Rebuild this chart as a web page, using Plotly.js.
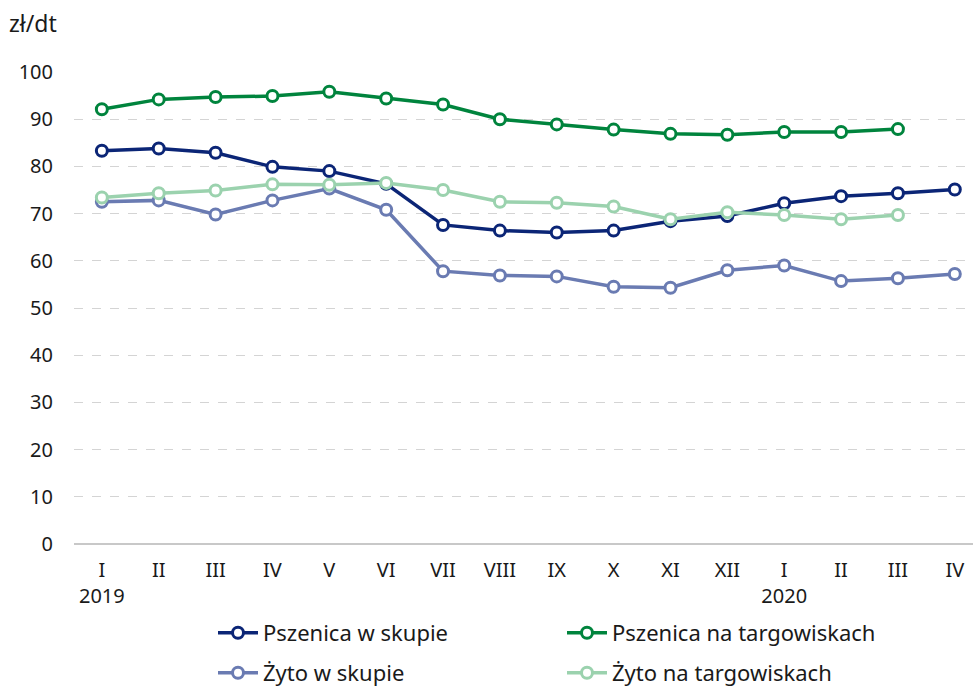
<!DOCTYPE html>
<html>
<head>
<meta charset="utf-8">
<script src="https://cdn.plot.ly/plotly-3.0.1.min.js"></script>
<style>
  body { margin: 0; background: #fff; }
  #chart { width: 973px; height: 689px; }
</style>
</head>
<body>
<div id="chart"></div>
<script>
const months = ["I", "II", "III", "IV", "V", "VI", "VII", "VIII", "IX", "X", "XI", "XII", "I", "II", "III", "IV"];
const years = ["2019", "", "", "", "", "", "", "", "", "", "", "", "2020", "", "", ""];

const pszenicaSkup = [83.3, 83.8, 82.9, 79.9, 79.0, 76.3, 67.6, 66.4, 66.0, 66.4, 68.4, 69.5, 72.2, 73.7, 74.3, 75.1];
const pszenicaTarg = [92.1, 94.2, 94.7, 94.9, 95.8, 94.4, 93.1, 90.0, 88.9, 87.8, 86.9, 86.7, 87.3, 87.3, 87.9];
const zytoSkup = [72.5, 72.8, 69.8, 72.8, 75.3, 70.8, 57.8, 56.9, 56.7, 54.5, 54.3, 58.0, 59.0, 55.7, 56.3, 57.2];
const zytoTarg = [73.4, 74.3, 74.9, 76.2, 76.1, 76.5, 75.0, 72.5, 72.3, 71.5, 68.8, 70.3, 69.7, 68.8, 69.7];

const FONT = "'Noto Sans', 'Open Sans', sans-serif";
const FSIZE = 20;

function series(name, values, color, legend) {
  return {
    x: values.map((v, i) => i),
    y: values,
    name: name,
    legend: legend,
    type: "scatter",
    mode: "lines+markers",
    line: { color: color, width: 3.5 },
    marker: {
      symbol: "circle",
      size: 11,
      color: "#ffffff",
      line: { color: color, width: 3 },
    },
  };
}

const traces = [
  series("Pszenica w skupie", pszenicaSkup, "#0b2576", "legend"),
  series("Pszenica na targowiskach", pszenicaTarg, "#00843d", "legend"),
  series("Żyto w skupie", zytoSkup, "#6a7bb2", "legend2"),
  series("Żyto na targowiskach", zytoTarg, "#9bd2ae", "legend2"),
];

const tickText = months.map((m, i) => (years[i] ? m + "<br>" + years[i] : m));

function legendRow(yCenter) {
  return {
    orientation: "h",
    xref: "container",
    yref: "container",
    x: 213 / 973,
    xanchor: "left",
    y: 1 - yCenter / 689,
    yanchor: "middle",
    entrywidth: 294,
    entrywidthmode: "pixels",
    itemwidth: 40,
    bgcolor: "rgba(0,0,0,0)",
    font: { family: FONT, size: 22, color: "#1a1a1a" },
    traceorder: "normal",
  };
}

const layout = {
  width: 973,
  height: 689,
  margin: { l: 74, r: 0, t: 72, b: 145 },
  paper_bgcolor: "#ffffff",
  plot_bgcolor: "#ffffff",
  font: { family: FONT, size: FSIZE, color: "#1a1a1a" },
  showlegend: true,
  xaxis: {
    range: [-0.49, 15.32],
    tickmode: "array",
    tickvals: months.map((m, i) => i),
    ticktext: tickText,
    showgrid: false,
    zeroline: false,
    showline: false,
    ticks: "",
    ticklabelstandoff: 12,
    tickfont: { family: FONT, size: FSIZE },
    fixedrange: true,
  },
  yaxis: {
    range: [0, 100],
    dtick: 10,
    showgrid: true,
    gridcolor: "#d4d4d4",
    griddash: "dash",
    gridwidth: 1,
    zeroline: true,
    zerolinecolor: "#c8c8c8",
    zerolinewidth: 1.5,
    ticks: "",
    ticklabelstandoff: 20,
    tickfont: { family: FONT, size: FSIZE },
    fixedrange: true,
  },
  legend: legendRow(633),
  legend2: legendRow(673),
  annotations: [
    {
      text: "zł/dt",
      xref: "paper",
      yref: "paper",
      x: -67 / 899,
      y: 1 + 49 / 472,
      xanchor: "left",
      yanchor: "middle",
      showarrow: false,
      font: { family: FONT, size: 23 },
    },
  ],
};

Plotly.newPlot("chart", traces, layout, { displayModeBar: false, staticPlot: true });
</script>
</body>
</html>
